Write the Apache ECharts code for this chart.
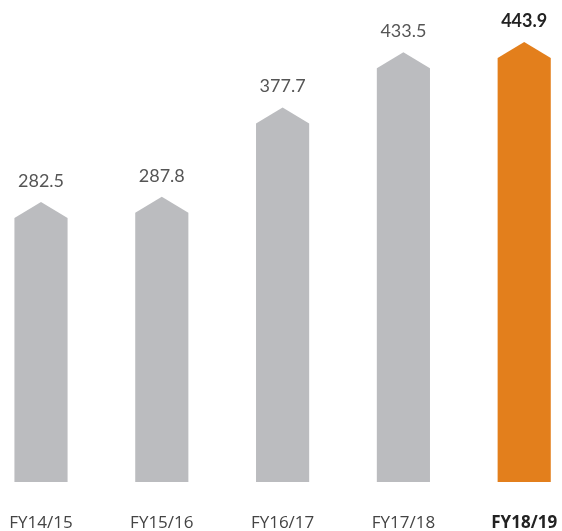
<!DOCTYPE html>
<html>
<head>
<meta charset="utf-8">
<script src="https://cdn.jsdelivr.net/npm/echarts@6/dist/echarts.min.js"></script>
<style>
html, body { margin: 0; padding: 0; background: #fff; }
#main { width: 562px; height: 531px; }
</style>
</head>
<body>
<div id="main"></div>
<script>
var years = ['FY14/15', 'FY15/16', 'FY16/17', 'FY17/18', 'FY18/19'];
var values = [282.5, 287.8, 377.7, 433.5, 443.9];
var highlight = 4; // last year shown in orange

var grey = '#bbbcbf';
var orange = '#e37f1c';

function renderArrow(params, api) {
	var i = api.value(0);
	var v = api.value(1);
	var top = api.coord([i, v]);
	var base = api.coord([i, 0]);
	var half = api.size([1, 0])[0] * 0.22;
	var shoulder = 16;
	var hot = i === highlight;
	return {
		type: 'group',
		children: [{
			type: 'polygon',
			shape: {
				points: [
					[top[0] - half, base[1]],
					[top[0] - half, top[1] + shoulder],
					[top[0], top[1]],
					[top[0] + half, top[1] + shoulder],
					[top[0] + half, base[1]]
				]
			},
			style: { fill: hot ? orange : grey }
		}, {
			type: 'text',
			x: top[0],
			y: top[1] - 21,
			style: {
				text: v.toFixed(1),
				fill: hot ? '#222' : '#555',
				font: (hot ? 'bold ' : '') + '18px Lato',
				align: 'center',
				verticalAlign: 'middle'
			}
		}]
	};
}

var chart = echarts.init(document.getElementById('main'));
chart.setOption({
	animation: false,
	grid: { left: -19.4, width: 604, top: 42, bottom: 49, outerBoundsMode: 'none', containLabel: false },
	xAxis: {
		type: 'category',
		data: years,
		axisLine: { show: false },
		axisTick: { show: false },
		axisLabel: {
			interval: 0,
			margin: 33,
			fontFamily: 'Open Sans',
			fontSize: 17,
			color: '#444',
			formatter: function (val, idx) {
				return idx === highlight ? '{b|' + val + '}' : val;
			},
			rich: {
				b: { fontFamily: 'Open Sans', fontSize: 17, fontWeight: 'bold', color: '#222' }
			}
		}
	},
	yAxis: {
		type: 'value',
		min: 0,
		max: 443.9,
		show: false,
		splitLine: { show: false }
	},
	series: [{
		type: 'custom',
		renderItem: renderArrow,
		data: values.map(function (v, i) { return [i, v]; })
	}]
});
</script>
</body>
</html>
